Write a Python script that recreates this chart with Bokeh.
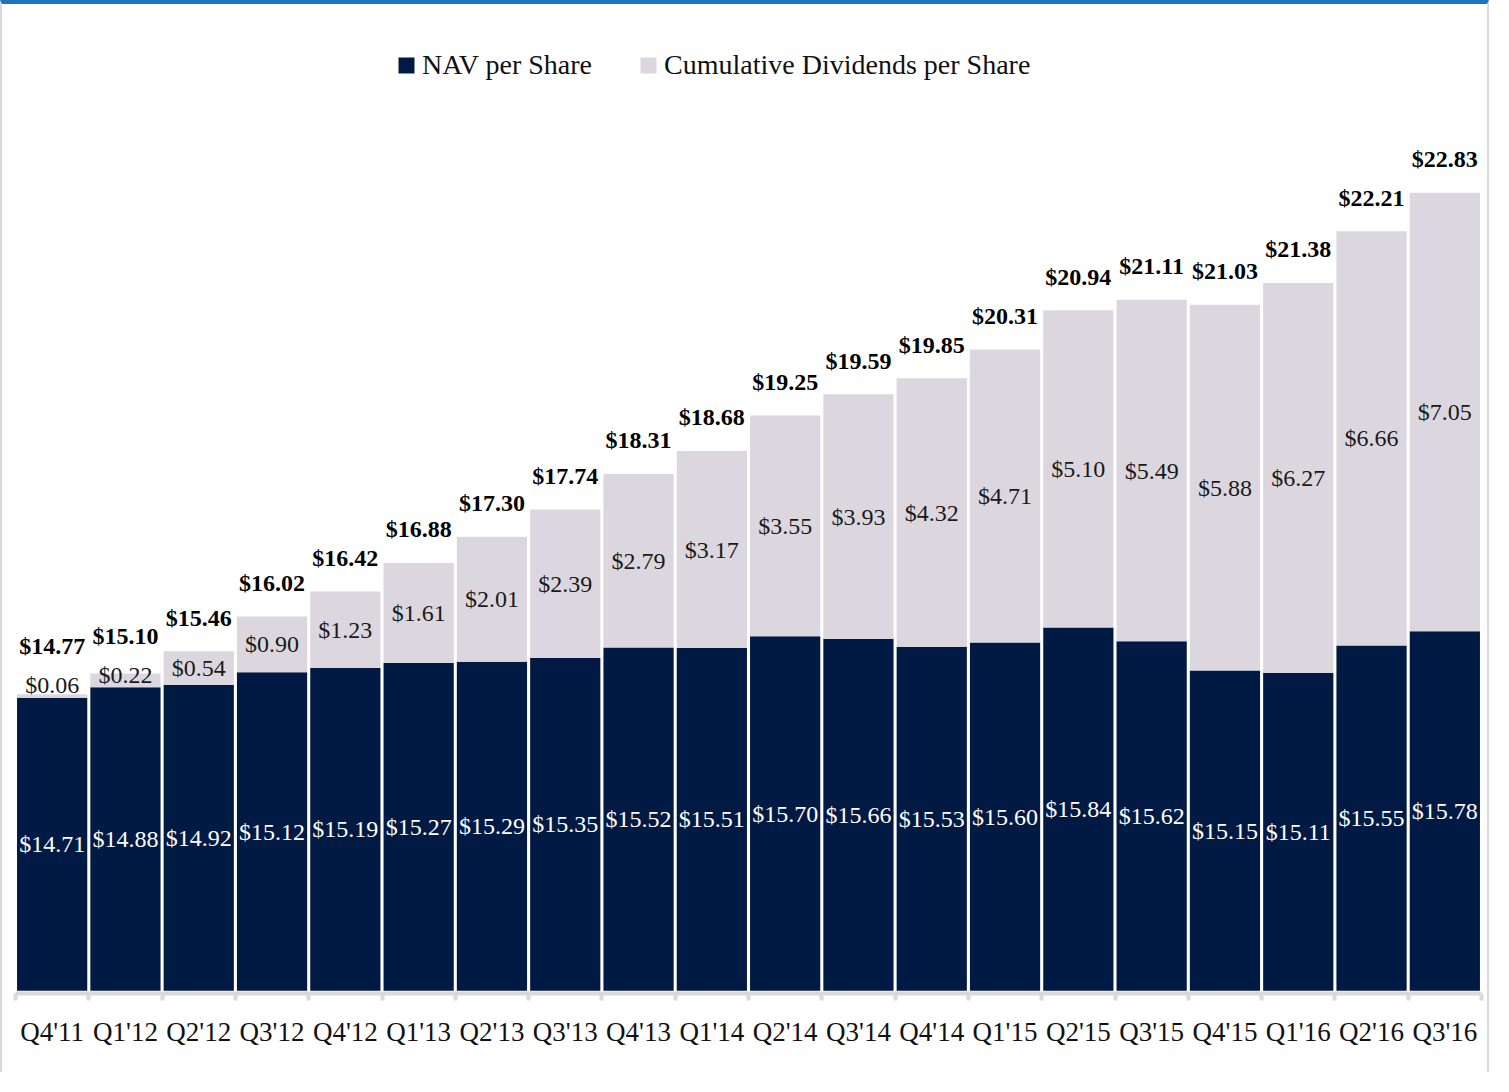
from bokeh.plotting import figure
from bokeh.models import (ColumnDataSource, Range1d, LinearAxis, FixedTicker)
from bokeh.core.properties import value
from bokeh.embed import file_html
from bokeh.resources import INLINE

quarters = ["Q4'11", "Q1'12", "Q2'12", "Q3'12", "Q4'12", "Q1'13", "Q2'13", "Q3'13",
            "Q4'13", "Q1'14", "Q2'14", "Q3'14", "Q4'14", "Q1'15", "Q2'15", "Q3'15",
            "Q4'15", "Q1'16", "Q2'16", "Q3'16"]
nav = [14.71, 14.88, 14.92, 15.12, 15.19, 15.27, 15.29, 15.35, 15.52, 15.51,
       15.70, 15.66, 15.53, 15.60, 15.84, 15.62, 15.15, 15.11, 15.55, 15.78]
dividends = [0.06, 0.22, 0.54, 0.90, 1.23, 1.61, 2.01, 2.39, 2.79, 3.17,
             3.55, 3.93, 4.32, 4.71, 5.10, 5.49, 5.88, 6.27, 6.66, 7.05]
totals = [14.77, 15.10, 15.46, 16.02, 16.42, 16.88, 17.30, 17.74, 18.31, 18.68,
          19.25, 19.59, 19.85, 20.31, 20.94, 21.11, 21.03, 21.38, 22.21, 22.83]

NAVY = "#011a44"
GREY = "#dcd7df"
AXIS_GREY = "#d9d9d9"
FONT = "Liberation Serif"

Y_BASE = 10.0
Y_START = 9.957
Y_END = 25.60

n = len(quarters)
idx = list(range(n))

src = ColumnDataSource(data=dict(
    x=idx,
    nav=nav,
    div=dividends,
    base=[Y_BASE] * n,
    tot=[a + d for a, d in zip(nav, dividends)],
))

p = figure(x_range=Range1d(-0.5, n - 0.5),
           y_range=Range1d(Y_START, Y_END),
           width=1489, height=1072, output_backend="svg", toolbar_location=None,
           x_axis_location=None, y_axis_location=None,
           min_border_left=13, min_border_right=10, min_border_top=16, min_border_bottom=83)
p.outline_line_color = None
p.xgrid.visible = False
p.ygrid.visible = False
p.styles = {"border-top": "4px solid #1b75bb",
            "border-left": "2px solid #dcd7df",
            "border-right": "2px solid #dcd7df"}

p.vbar(x="x", bottom="base", top="nav", width=0.958, source=src,
       fill_color=NAVY, line_color=None, legend_label="NAV per Share")
p.vbar(x="x", bottom="nav", top="tot", width=0.958, source=src,
       fill_color=GREY, line_color=None, legend_label="Cumulative Dividends per Share")

# label positions
nav_lbl_y = [(Y_BASE + v) / 2 for v in nav]
div_lbl_y = [v + max(d / 2, 0.2) for v, d in zip(nav, dividends)]
tot_lbl_y = [max(t + 0.54, dy + 0.63) for t, dy in zip(totals, div_lbl_y)]

lbl = ColumnDataSource(data=dict(
    x=idx,
    ny=nav_lbl_y, nt=["$%.2f" % v for v in nav],
    dy=div_lbl_y, dt=["$%.2f" % v for v in dividends],
    ty=tot_lbl_y, tt=["$%.2f" % v for v in totals],
))
p.text(x="x", y="ny", text="nt", source=lbl, text_align="center", text_baseline="middle",
       text_font=value(FONT), text_font_size="24px", text_color="white")
p.text(x="x", y="dy", text="dt", source=lbl, text_align="center", text_baseline="middle",
       text_font=value(FONT), text_font_size="24px", text_color="#1a1a1a")
p.text(x="x", y="ty", text="tt", source=lbl, text_align="center", text_baseline="middle",
       text_font=value(FONT), text_font_size="24px", text_color="#000000",
       text_font_style="bold")

# x axis: labels at category centres, tick marks (minor) at category boundaries
xaxis = LinearAxis(ticker=FixedTicker(ticks=idx,
                                      minor_ticks=[i - 0.5 for i in range(n + 1)]),
                   major_label_overrides={i: q for i, q in zip(idx, quarters)},
                   axis_line_color=AXIS_GREY, axis_line_width=4,
                   major_tick_line_color=None, major_tick_out=0, major_tick_in=0,
                   minor_tick_line_color=AXIS_GREY, minor_tick_line_width=4,
                   minor_tick_out=7, minor_tick_in=0,
                   major_label_text_font=FONT, major_label_text_font_size="27px",
                   major_label_text_color="#111111",
                   major_label_standoff=16)
p.add_layout(xaxis, "below")

lg = p.legend[0]
lg.orientation = "horizontal"
lg.location = (381, 912)
lg.border_line_color = None
lg.background_fill_alpha = 0
lg.label_text_font = FONT
lg.label_text_font_size = "28px"
lg.label_text_color = "#111111"
lg.glyph_width = 20
lg.glyph_height = 20
lg.label_standoff = 6
lg.spacing = 46
lg.padding = 0
lg.margin = 0

open("out.html", "w").write(file_html(p, INLINE))
